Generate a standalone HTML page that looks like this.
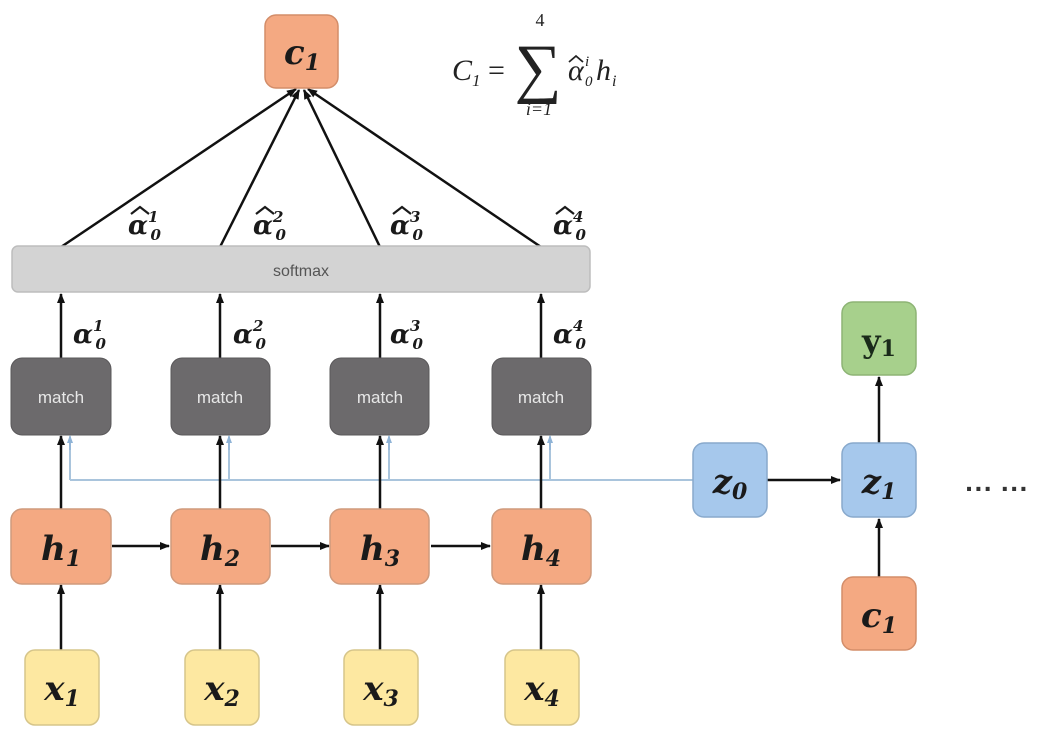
<!DOCTYPE html>
<html><head><meta charset="utf-8"><style>
html,body{margin:0;padding:0;background:#fff;}
svg{display:block;}
.m{font-family:"DejaVu Serif","Liberation Serif",serif;font-style:italic;font-weight:bold;fill:#1a1a1a;}
.s{font-family:"Liberation Sans",sans-serif;}
.f{font-family:"Liberation Serif",serif;font-style:italic;fill:#222;}
</style></head><body>
<svg width="1050" height="744" viewBox="0 0 1050 744" xmlns="http://www.w3.org/2000/svg">
<defs>
<marker id="a" markerWidth="10" markerHeight="10" refX="9" refY="5" orient="auto" markerUnits="userSpaceOnUse"><path d="M0,1 L10,5 L0,9 z" fill="#111"/></marker>
<marker id="b" markerWidth="8" markerHeight="8" refX="7" refY="4" orient="auto" markerUnits="userSpaceOnUse"><path d="M0,1 L8,4 L0,7 z" fill="#8fb3d6"/></marker>
</defs>
<path d="M693,480 H70 M70,480 V437 M229,480 V437 M389,480 V437 M550,480 V437" stroke="#a9c4dc" stroke-width="2" fill="none"/>
<g stroke="#8fb3d6" stroke-width="1.5" marker-end="url(#b)">
<line x1="70" y1="450" x2="70" y2="436"/><line x1="229" y1="450" x2="229" y2="436"/><line x1="389" y1="450" x2="389" y2="436"/><line x1="550" y1="450" x2="550" y2="436"/>
</g>
<g stroke="#111" stroke-width="2.5" fill="none" marker-end="url(#a)">
<line x1="61" y1="247" x2="296" y2="89"/>
<line x1="220" y1="247" x2="299" y2="90"/>
<line x1="380" y1="247" x2="304" y2="90"/>
<line x1="541" y1="247" x2="308" y2="89"/>
<line x1="61" y1="358" x2="61" y2="294"/><line x1="220" y1="358" x2="220" y2="294"/><line x1="380" y1="358" x2="380" y2="294"/><line x1="541" y1="358" x2="541" y2="294"/>
<line x1="61" y1="509" x2="61" y2="436"/><line x1="220" y1="509" x2="220" y2="436"/><line x1="380" y1="509" x2="380" y2="436"/><line x1="541" y1="509" x2="541" y2="436"/>
<line x1="61" y1="650" x2="61" y2="585"/><line x1="220" y1="650" x2="220" y2="585"/><line x1="380" y1="650" x2="380" y2="585"/><line x1="541" y1="650" x2="541" y2="585"/>
<line x1="112" y1="546" x2="169" y2="546"/><line x1="271" y1="546" x2="329" y2="546"/><line x1="431" y1="546" x2="490" y2="546"/>
<line x1="767" y1="480" x2="840" y2="480"/>
<line x1="879" y1="443" x2="879" y2="377"/>
<line x1="879" y1="577" x2="879" y2="519"/>
</g>
<rect x="265" y="15" width="73" height="73" rx="11" fill="#f4a982" stroke="#d38d69" stroke-width="1.5"/>
<text x="302" y="64" class="m" font-size="34" text-anchor="middle">c<tspan font-size="22" dy="6">1</tspan></text>
<!-- formula -->
<text x="452" y="80" class="f" font-size="30">C</text>
<text x="472" y="86" class="f" font-size="17" font-style="normal">1</text>
<text x="488" y="80" font-family="Liberation Serif,serif" font-size="30" fill="#222">=</text>
<text x="538" y="90" text-anchor="middle" font-family="Liberation Serif,serif" font-size="66" fill="#222">∑</text>
<text x="540" y="26" text-anchor="middle" font-family="Liberation Serif,serif" font-size="18" fill="#222">4</text>
<text x="539" y="115" text-anchor="middle" class="f" font-size="18">i=1</text>
<text x="568" y="80" class="f" font-size="30">α</text>
<path d="M569,62 L576,56 L583,62" stroke="#222" stroke-width="1.8" fill="none"/>
<text x="585" y="66" class="f" font-size="15">i</text>
<text x="585" y="86" class="f" font-size="15" font-style="normal">0</text>
<text x="596" y="80" class="f" font-size="30">h</text>
<text x="612" y="86" class="f" font-size="16">i</text>
<rect x="12" y="246" width="578" height="46" rx="6" fill="#d3d3d3" stroke="#bdbdbd" stroke-width="1.5"/>
<text x="301" y="276" text-anchor="middle" class="s" font-size="16" fill="#555">softmax</text>
<g class="m" font-size="26">
<text x="128" y="234">α<tspan font-size="15" dy="-12">1</tspan><tspan font-size="15" dx="-8" dy="18">0</tspan></text>
<text x="253" y="234">α<tspan font-size="15" dy="-12">2</tspan><tspan font-size="15" dx="-8" dy="18">0</tspan></text>
<text x="390" y="234">α<tspan font-size="15" dy="-12">3</tspan><tspan font-size="15" dx="-8" dy="18">0</tspan></text>
<text x="553" y="234">α<tspan font-size="15" dy="-12">4</tspan><tspan font-size="15" dx="-8" dy="18">0</tspan></text>
<text x="73" y="343">α<tspan font-size="15" dy="-12">1</tspan><tspan font-size="15" dx="-8" dy="18">0</tspan></text>
<text x="233" y="343">α<tspan font-size="15" dy="-12">2</tspan><tspan font-size="15" dx="-8" dy="18">0</tspan></text>
<text x="390" y="343">α<tspan font-size="15" dy="-12">3</tspan><tspan font-size="15" dx="-8" dy="18">0</tspan></text>
<text x="553" y="343">α<tspan font-size="15" dy="-12">4</tspan><tspan font-size="15" dx="-8" dy="18">0</tspan></text>
</g>
<g stroke="#1a1a1a" stroke-width="2.2" fill="none">
<path d="M131,214 L140,207 L149,214"/><path d="M256,214 L265,207 L274,214"/><path d="M393,214 L402,207 L411,214"/><path d="M556,214 L565,207 L574,214"/>
</g>
<g fill="#6c6a6c" stroke="#5a585a">
<rect x="11" y="358" width="100" height="77" rx="11"/><rect x="171" y="358" width="99" height="77" rx="11"/><rect x="330" y="358" width="99" height="77" rx="11"/><rect x="492" y="358" width="99" height="77" rx="11"/>
</g>
<g class="s" font-size="17" fill="#e8e8e8" text-anchor="middle">
<text x="61" y="403">match</text><text x="220" y="403">match</text><text x="380" y="403">match</text><text x="541" y="403">match</text>
</g>
<g fill="#f4a982" stroke="#cf9a7c" stroke-width="1.5">
<rect x="11" y="509" width="100" height="75" rx="11"/><rect x="171" y="509" width="99" height="75" rx="11"/><rect x="330" y="509" width="99" height="75" rx="11"/><rect x="492" y="509" width="99" height="75" rx="11"/>
</g>
<g class="m" font-size="34" text-anchor="middle">
<text x="61" y="560">h<tspan font-size="22" dy="6">1</tspan></text>
<text x="220" y="560">h<tspan font-size="22" dy="6">2</tspan></text>
<text x="380" y="560">h<tspan font-size="22" dy="6">3</tspan></text>
<text x="541" y="560">h<tspan font-size="22" dy="6">4</tspan></text>
</g>
<g fill="#fde8a1" stroke="#d6c58a" stroke-width="1.5">
<rect x="25" y="650" width="74" height="75" rx="10"/><rect x="185" y="650" width="74" height="75" rx="10"/><rect x="344" y="650" width="74" height="75" rx="10"/><rect x="505" y="650" width="74" height="75" rx="10"/>
</g>
<g class="m" font-size="34" text-anchor="middle">
<text x="62" y="700">x<tspan font-size="22" dy="6">1</tspan></text>
<text x="222" y="700">x<tspan font-size="22" dy="6">2</tspan></text>
<text x="381" y="700">x<tspan font-size="22" dy="6">3</tspan></text>
<text x="542" y="700">x<tspan font-size="22" dy="6">4</tspan></text>
</g>
<rect x="693" y="443" width="74" height="74" rx="11" fill="#a6c8ec" stroke="#88a9cc" stroke-width="1.5"/>
<text x="730" y="493" class="m" font-size="34" text-anchor="middle" fill="#1a2a40">z<tspan font-size="22" dy="6">0</tspan></text>
<rect x="842" y="443" width="74" height="74" rx="11" fill="#a6c8ec" stroke="#88a9cc" stroke-width="1.5"/>
<text x="879" y="493" class="m" font-size="34" text-anchor="middle" fill="#1a2a40">z<tspan font-size="22" dy="6">1</tspan></text>
<rect x="842" y="302" width="74" height="73" rx="11" fill="#a7d08c" stroke="#8db475" stroke-width="1.5"/>
<text x="879" y="352" font-family="DejaVu Serif,serif" font-weight="bold" font-size="32" text-anchor="middle" fill="#1a2a1a">y<tspan font-size="22" dy="4">1</tspan></text>
<rect x="842" y="577" width="74" height="73" rx="11" fill="#f4a982" stroke="#d38d69" stroke-width="1.5"/>
<text x="879" y="627" class="m" font-size="34" text-anchor="middle">c<tspan font-size="22" dy="6">1</tspan></text>
<text x="997" y="498" text-anchor="middle" class="s" font-weight="bold" font-size="28" fill="#333">··· ···</text>
</svg>
</body></html>
